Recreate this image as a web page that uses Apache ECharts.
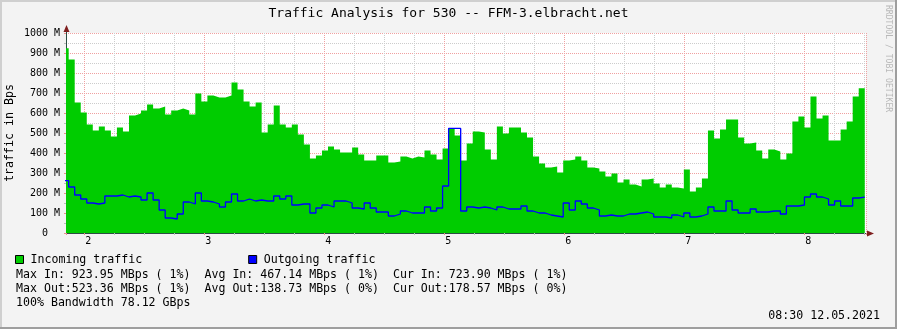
<!DOCTYPE html>
<html><head><meta charset="utf-8">
<script src="https://cdn.jsdelivr.net/npm/echarts@6/dist/echarts.min.js"></script>
<style>html,body{margin:0;padding:0;background:#f3f3f3;overflow:hidden}#c{width:897px;height:329px}</style>
</head><body><div id="c"></div>
<script>
// ---- data (values in M bytes/s) ----
const titleText = 'Traffic Analysis for 530 -- FFM-3.elbracht.net';
const xTickLabels = [2, 3, 4, 5, 6, 7, 8];
const xStart = 1.8472, xEnd = 8.5139;       // visible time range (axis units)
const sampleStart = 1.81919;                 // left edge of first sample
const sampleStep = 0.050258;                 // sample width (axis units)
const incoming = [
  924,868,652,602,542,512,532,512,482,527,507,587,597,612,642,622,632,592,612,622,
  612,592,697,657,687,677,677,687,752,717,657,632,652,502,542,637,542,527,542,492,
  442,372,387,412,432,417,402,402,427,392,362,362,387,387,352,357,382,372,382,377,
  412,392,367,422,522,487,362,447,507,502,417,367,532,497,527,527,502,477,382,347,
  327,332,302,362,367,382,362,327,322,307,282,297,252,267,242,232,267,272,247,227,
  242,227,222,317,207,227,272,512,472,517,567,567,477,447,452,412,372,417,407,367,
  397,557,582,527,682,572,587,462,462,517,557,682,724
];
const outgoing = [
  262,230,190,170,150,145,150,185,185,190,180,185,180,165,200,165,115,75,70,95,
  155,145,200,160,155,145,130,155,195,160,170,160,165,160,160,185,170,185,140,145,
  145,100,125,140,130,160,160,150,125,120,150,125,105,105,85,95,110,100,100,100,
  130,110,125,235,523,523,110,130,125,130,125,115,130,120,120,120,135,110,100,100,
  90,85,80,150,115,160,145,125,115,85,90,85,85,95,95,100,105,95,80,80,
  75,90,80,100,80,85,95,130,110,110,160,115,100,100,120,105,105,110,110,95,
  135,135,140,180,195,180,170,140,160,135,135,175,179
];
const seriesNames = ['Incoming traffic', 'Outgoing traffic'];
const statsLines = [
  'Max In: 923.95 MBps ( 1%)  Avg In: 467.14 MBps ( 1%)  Cur In: 723.90 MBps ( 1%)',
  'Max Out:523.36 MBps ( 1%)  Avg Out:138.73 MBps ( 0%)  Cur Out:178.57 MBps ( 0%)',
  '100% Bandwidth 78.12 GBps'
];
const stampText = '08:30 12.05.2021';
const yMax = 1000, yStep = 100;

// ---- build ----
const MONO = '"DejaVu Sans Mono", monospace';
function toPoints(arr) {
  const d = arr.map((v, i) => [sampleStart + i * sampleStep, v]);
  d.push([sampleStart + arr.length * sampleStep, arr[arr.length - 1]]);
  return d;
}
const chart = echarts.init(document.getElementById('c'), null, {renderer: 'canvas'});
const gridTop = 33, gridLeft = 66, gridRight = 31, gridH = 200;
const statsY = [274.5, 288.5, 302.5];
const graphics = [
  {type: 'rect', shape: {x: 0, y: 0, width: 897, height: 2}, style: {fill: '#cfcfcf'}, silent: true},
  {type: 'rect', shape: {x: 0, y: 0, width: 2, height: 329}, style: {fill: '#cfcfcf'}, silent: true},
  {type: 'rect', shape: {x: 895, y: 0, width: 2, height: 329}, style: {fill: '#9e9e9e'}, silent: true},
  {type: 'rect', shape: {x: 0, y: 327, width: 897, height: 2}, style: {fill: '#9e9e9e'}, silent: true},
  {type: 'text', x: 888, y: 5, rotation: -Math.PI / 2, silent: true,
   style: {text: 'RRDTOOL / TOBI OETIKER', fontSize: 8.1, fontFamily: MONO, fill: '#b8b8b8', align: 'left', verticalAlign: 'middle'}},
  {type: 'text', x: 880, y: 316, silent: true,
   style: {text: stampText, fontSize: 11.6, fontFamily: MONO, fill: '#000', align: 'right', verticalAlign: 'middle'}}
];
statsLines.forEach((t, i) => graphics.push({type: 'text', x: 16, y: statsY[i], silent: true,
  style: {text: t, fontSize: 11.6, fontFamily: MONO, fill: '#000', align: 'left', verticalAlign: 'middle'}}));

const option = {
  animation: false,
  backgroundColor: '#f3f3f3',
  color: ['#00cc00', '#0000ff'],
  title: {text: titleText, left: 'center', top: 7, padding: 0,
    textStyle: {fontFamily: MONO, fontSize: 13, fontWeight: 'normal', color: '#000'}},
  legend: {data: seriesNames, left: 15, top: 253.5, padding: 0, itemWidth: 8, itemHeight: 8, itemGap: 106,
    icon: 'rect', itemStyle: {borderColor: '#000', borderWidth: 1},
    textStyle: {fontFamily: MONO, fontSize: 11.6, color: '#000', padding: [0, 0, 0, 2]}},
  grid: {left: gridLeft, right: gridRight, top: gridTop, height: gridH, containLabel: false,
    outerBoundsMode: 'none',
    show: true, backgroundColor: '#ffffff', borderWidth: 0},
  xAxis: {type: 'value', min: xStart, max: xEnd, minInterval: 1, maxInterval: 1,
    axisLine: {show: true, onZero: false, lineStyle: {color: '#2c4d43', width: 1}},
    axisTick: {show: true, length: 2, lineStyle: {color: '#e89090'}},
    minorTick: {show: true, splitNumber: 4, length: 2, lineStyle: {color: '#bbbbbb'}},
    axisLabel: {show: true, margin: 3, fontFamily: MONO, fontSize: 10, color: '#000', padding: [0, 0, 0, 8],
      showMinLabel: false, showMaxLabel: false,
      formatter: v => (xTickLabels.indexOf(Math.round(v)) >= 0 && Math.abs(v - Math.round(v)) < 1e-6) ? String(Math.round(v)) : ''},
    splitLine: {show: true, lineStyle: {color: '#f0a0a0', width: 1, type: [1, 1]}},
    minorSplitLine: {show: true, lineStyle: {color: '#cccccc', width: 1, type: [1, 1]}}
  },
  yAxis: {type: 'value', min: 0, max: yMax, minInterval: yStep, maxInterval: yStep,
    name: 'traffic in Bps', nameLocation: 'middle', nameRotate: 90, nameGap: 50, nameMoveOverlap: false,
    nameTextStyle: {fontFamily: MONO, fontSize: 11.6, color: '#000'},
    axisLine: {show: true, lineStyle: {color: '#2c4d43', width: 1}},
    axisTick: {show: true, length: 2, lineStyle: {color: '#e89090'}},
    minorTick: {show: true, splitNumber: 2, length: 2, lineStyle: {color: '#bbbbbb'}},
    axisLabel: {margin: 6, fontFamily: MONO, fontSize: 10, color: '#000',
      formatter: v => v === 0 ? '0  ' : v + ' M'},
    splitLine: {show: true, lineStyle: {color: '#f0a0a0', width: 1, type: [1, 1]}},
    minorSplitLine: {show: true, lineStyle: {color: '#cccccc', width: 1, type: [1, 1]}}
  },
  series: [
    {name: seriesNames[0], type: 'line', step: 'end', data: toPoints(incoming), showSymbol: false,
     itemStyle: {color: '#00cc00'}, lineStyle: {width: 0, color: '#00cc00'},
     areaStyle: {color: '#00cc00', opacity: 1}, clip: true, z: 2},
    {name: seriesNames[1], type: 'line', step: 'end', data: toPoints(outgoing), showSymbol: false,
     itemStyle: {color: '#0000ff'}, lineStyle: {width: 1.3, color: '#0000ff'}, clip: true, z: 3}
  ],
  graphic: graphics
};
chart.setOption(option);
// axis arrows (rrdtool style), placed through the axis scales
const pTop = chart.convertToPixel({gridIndex: 0}, [xStart, yMax]);
const pEnd = chart.convertToPixel({gridIndex: 0}, [xEnd, 0]);
const ax = Math.round(pTop[0]) + 0.5, ay = Math.round(pEnd[1]) + 0.5;
const arrowColor = '#7f1f1f';
chart.setOption({graphic: graphics.concat([
  {type: 'line', shape: {x1: ax, y1: pTop[1], x2: ax, y2: pTop[1] - 2}, style: {stroke: '#2c4d43', lineWidth: 1}, silent: true},
  {type: 'polygon', shape: {points: [[ax - 3, pTop[1] - 1], [ax + 3, pTop[1] - 1], [ax, pTop[1] - 8]]}, style: {fill: arrowColor}, silent: true},
  {type: 'line', shape: {x1: pEnd[0], y1: ay, x2: pEnd[0] + 2, y2: ay}, style: {stroke: '#2c4d43', lineWidth: 1}, silent: true},
  {type: 'polygon', shape: {points: [[pEnd[0] + 1, ay - 3], [pEnd[0] + 1, ay + 3], [pEnd[0] + 8, ay]]}, style: {fill: arrowColor}, silent: true}
])});
</script>
</body></html>
